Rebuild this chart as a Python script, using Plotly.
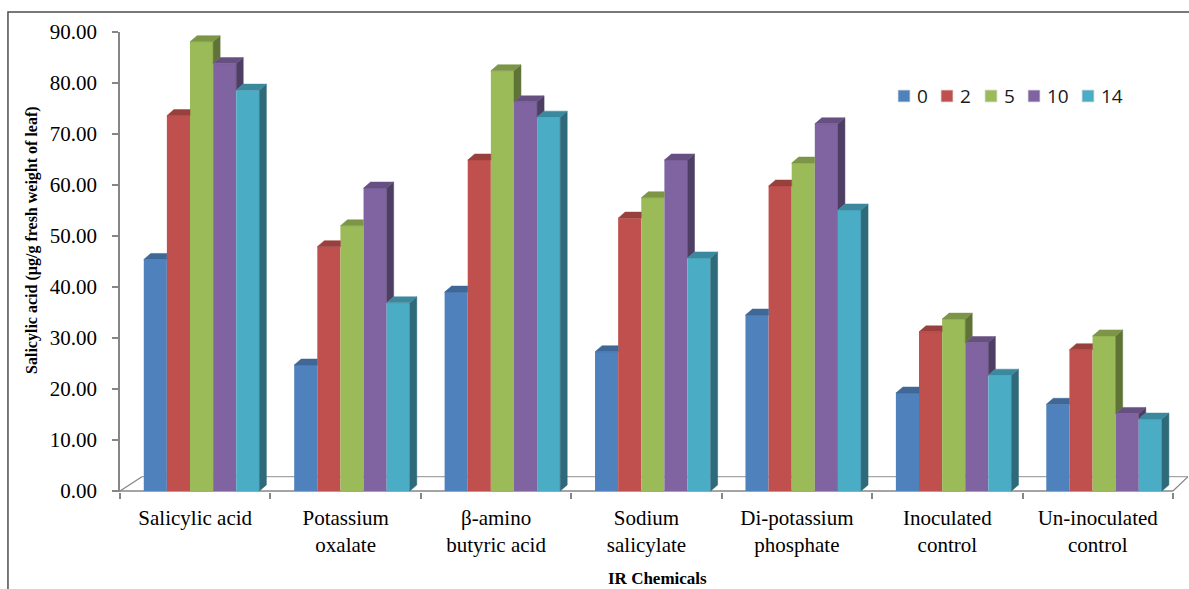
import plotly.graph_objects as go

# Salicylic acid content (µg/g fresh weight of leaf) by IR chemical and day
categories = ["Salicylic acid", "Potassium<br>oxalate", "β-amino<br>butyric acid",
              "Sodium<br>salicylate", "Di-potassium<br>phosphate",
              "Inoculated<br>control", "Un-inoculated<br>control"]
series_names = ["0", "2", "5", "10", "14"]
day0 = [45.4, 24.7, 39.0, 27.3, 34.5, 19.2, 17.0]
day2 = [73.6, 47.9, 64.9, 53.5, 59.8, 31.2, 27.7]
day5 = [88.1, 52.0, 82.4, 57.5, 64.3, 33.7, 30.4]
day10 = [83.8, 59.4, 76.3, 64.9, 72.0, 29.1, 15.2]
day14 = [78.6, 36.9, 73.3, 45.7, 55.1, 22.7, 14.1]
y_ticks = [0, 10, 20, 30, 40, 50, 60, 70, 80, 90]

series = [day0, day2, day5, day10, day14]
front = ["#4F81BD", "#C0504D", "#9BBB59", "#8064A2", "#4BACC6"]


def shade(hex_color, f):
    h = hex_color.lstrip("#")
    r, g, b = (int(h[i:i + 2], 16) for i in (0, 2, 4))
    return "#%02x%02x%02x" % (int(r * f), int(g * f), int(b * f))


side_col = [shade(c, 0.62) for c in front]
top_col = [shade(c, 0.80) for c in front]

# bar geometry in axis units
W = 0.1537          # width of one bar
G0 = -0.342         # left edge of a group relative to category centre
DX = 0.0465         # depth offset (x)
DY = 1.18           # depth offset (y)

idx = list(range(len(categories)))
fig = go.Figure()

# front faces
for k, (name, vals) in enumerate(zip(series_names, series)):
    fig.add_trace(go.Bar(
        x=idx, y=vals, name=name, width=W, offset=G0 + k * W,
        marker=dict(color=front[k], line=dict(width=0)),
        hoverinfo="skip", showlegend=False,
    ))

# visible side and top faces for the pseudo-3D look
for k, vals in enumerate(series):
    sx, sy, tx, ty = [], [], [], []
    for i, v in enumerate(vals):
        left = i + G0 + k * W
        right = left + W
        nxt = series[k + 1][i] if k + 1 < len(series) else None
        # side face (hidden below the neighbouring bar's top)
        low = 0 if nxt is None else nxt
        if nxt is None or v > nxt:
            sx += [right, right + DX, right + DX, right, right, None]
            sy += [low, low + DY, v + DY, v, low, None]
        # top face (cut where the taller neighbour stands in front)
        if nxt is not None and nxt > v:
            tx += [left, left + DX, right, right, left, None]
            ty += [v, v + DY, v + DY, v, v, None]
        else:
            tx += [left, left + DX, right + DX, right, left, None]
            ty += [v, v + DY, v + DY, v, v, None]
    fig.add_trace(go.Scatter(x=sx, y=sy, mode="lines", fill="toself",
                             fillcolor=side_col[k],
                             line=dict(width=0.5, color=side_col[k]),
                             showlegend=False, hoverinfo="skip"))
    fig.add_trace(go.Scatter(x=tx, y=ty, mode="lines", fill="toself",
                             fillcolor=top_col[k],
                             line=dict(width=0.5, color=top_col[k]),
                             showlegend=False, hoverinfo="skip"))

axis_grey = "#868686"
n = len(categories)
floor_back = 2.8
shapes = [
    # floor of the 3-D plot
    dict(type="line", xref="x", yref="y", x0=-0.5, y0=0, x1=n - 0.5, y1=0,
         line=dict(color=axis_grey, width=1.5), layer="below"),
    dict(type="line", xref="x", yref="y", x0=-0.5, y0=0, x1=-0.354, y1=floor_back,
         line=dict(color=axis_grey, width=1.2), layer="below"),
    dict(type="line", xref="x", yref="y", x0=-0.354, y0=floor_back, x1=n - 0.4, y1=floor_back,
         line=dict(color="#a6a6a6", width=1.2), layer="below"),
    dict(type="line", xref="x", yref="y", x0=n - 0.5, y0=0, x1=n - 0.4, y1=floor_back,
         line=dict(color=axis_grey, width=1.2), layer="below"),
    # chart frame
    dict(type="rect", xref="paper", yref="paper", x0=-0.1049, y0=-0.3, x1=1.05, y1=1.0435,
         line=dict(color="#4d4d4d", width=1.5), fillcolor="rgba(0,0,0,0)", layer="below"),
]

serif = "Liberation Serif"
annotations = [
    dict(text="<b>Salicylic acid (µg/g fresh weight of leaf)</b>", textangle=-90,
         xref="paper", yref="paper", x=-0.0824, y=0.548, xanchor="center", yanchor="middle",
         showarrow=False, font=dict(family=serif, size=16, color="black")),
    dict(text="<b>IR Chemicals</b>", xref="paper", yref="paper", x=0.5037, y=-0.189,
         xanchor="center", yanchor="middle",
         showarrow=False, font=dict(family=serif, size=17, color="black")),
]

# legend: coloured squares with the day labels, laid out in one row
W_PLOT = 1189 - 120 - 1
H_PLOT = 589 - 32 - 97
legend_px = [904, 947, 991, 1034, 1088]
legend_py = 96
for k, name in enumerate(series_names):
    cx = (legend_px[k] - 120) / W_PLOT
    cy = (492 - legend_py) / H_PLOT
    hx = 6 / W_PLOT
    hy = 6 / H_PLOT
    shapes.append(dict(type="rect", xref="paper", yref="paper",
                       x0=cx - hx, x1=cx + hx, y0=cy - hy, y1=cy + hy,
                       fillcolor=front[k], line=dict(color="#e0e0e0", width=0.8)))
    annotations.append(dict(text=name, xref="paper", yref="paper",
                            x=cx + 11 / W_PLOT, y=cy, xanchor="left", yanchor="middle",
                            showarrow=False,
                            font=dict(family="Open Sans", size=19, color="#1a1a1a")))

fig.update_layout(
    width=1189, height=589,
    margin=dict(l=120, r=1, t=32, b=97),
    paper_bgcolor="white", plot_bgcolor="white",
    barmode="overlay",
    showlegend=False,
    xaxis=dict(range=[-0.5, n - 0.4], tickmode="array", tickvals=idx, ticktext=categories,
               ticks="", showline=False, showgrid=False, zeroline=False,
               tickfont=dict(family=serif, size=21, color="black"),
               ticklabelstandoff=11,
               minor=dict(tickmode="linear", tick0=-0.5, dtick=1, ticks="outside",
                          ticklen=6, tickcolor=axis_grey, tickwidth=1.5, showgrid=False)),
    yaxis=dict(range=[-0.2, 90], tickmode="array", tickvals=y_ticks, tickformat=".2f",
               ticks="outside", ticklen=6, tickcolor=axis_grey, tickwidth=1.5,
               showline=True, linecolor=axis_grey, linewidth=1.5,
               showgrid=False, zeroline=False, ticklabelstandoff=11,
               tickfont=dict(family=serif, size=21, color="black")),
    shapes=shapes,
    annotations=annotations,
)

fig.write_html("out.html")
